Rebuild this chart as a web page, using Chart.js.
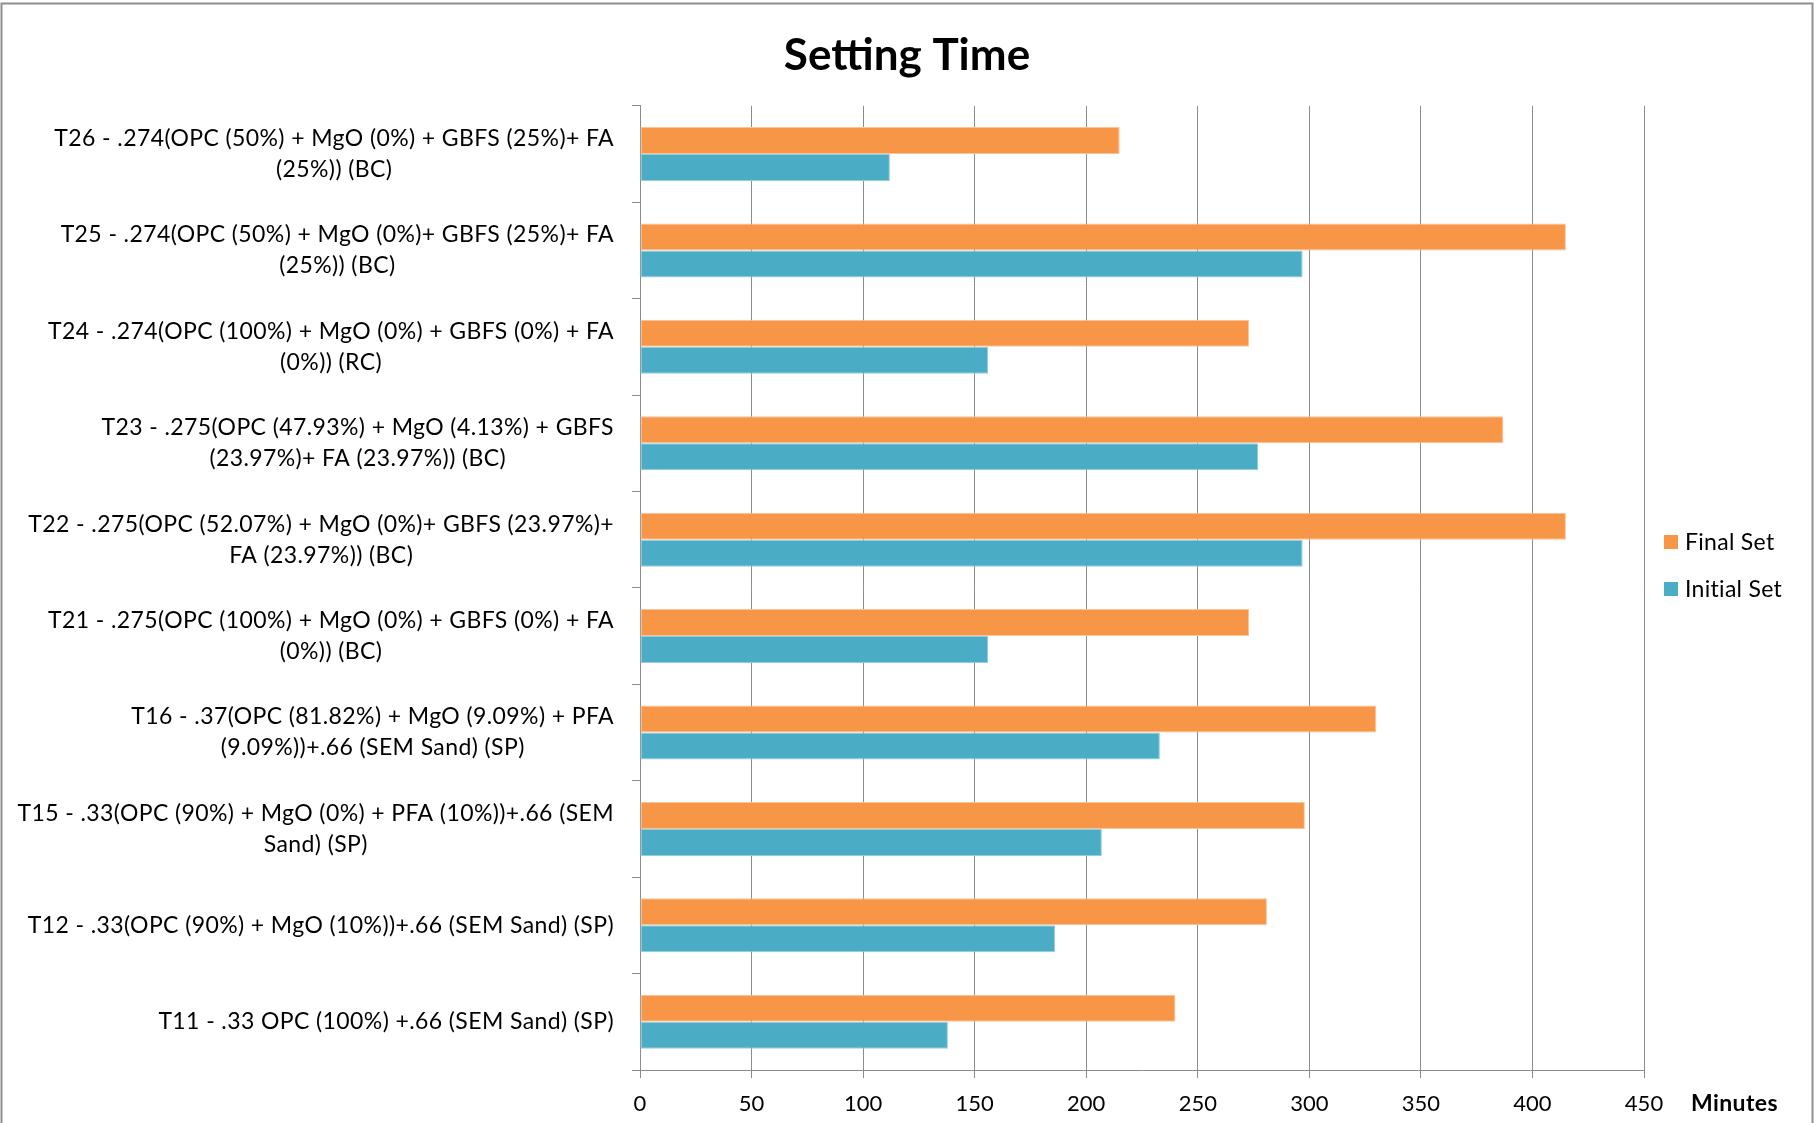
<!DOCTYPE html>
<html>
<head>
<meta charset="utf-8">
<title>Setting Time</title>
<script src="https://cdn.jsdelivr.net/npm/chart.js@4.4.1/dist/chart.umd.min.js"></script>
<style>
  html, body { margin: 0; padding: 0; background: #ffffff; }
  #wrap { width: 1814px; height: 1123px; position: relative; }
  canvas { display: block; }
</style>
</head>
<body>
<div id="wrap"><canvas id="chart" width="1814" height="1123"></canvas></div>
<script>
// Mix designs, listed from the top of the chart to the bottom (one array of lines each)
const mixes = [
  ['T26 - .274(OPC (50%) + MgO (0%) + GBFS (25%)+ FA', '(25%)) (BC)'],
  ['T25 - .274(OPC (50%) + MgO (0%)+ GBFS (25%)+ FA', '(25%)) (BC)'],
  ['T24 - .274(OPC (100%) + MgO (0%) + GBFS (0%) + FA', '(0%)) (RC)'],
  ['T23 - .275(OPC (47.93%) + MgO (4.13%) + GBFS', '(23.97%)+ FA (23.97%)) (BC)'],
  ['T22 - .275(OPC (52.07%) + MgO (0%)+ GBFS (23.97%)+', 'FA (23.97%)) (BC)'],
  ['T21 - .275(OPC (100%) + MgO (0%) + GBFS (0%) + FA', '(0%)) (BC)'],
  ['T16 - .37(OPC (81.82%) + MgO (9.09%) + PFA', '(9.09%))+.66 (SEM Sand) (SP)'],
  ['T15 - .33(OPC (90%) + MgO (0%) + PFA (10%))+.66 (SEM', 'Sand) (SP)'],
  ['T12 - .33(OPC (90%) + MgO (10%))+.66 (SEM Sand) (SP)'],
  ['T11 - .33 OPC (100%) +.66 (SEM Sand) (SP)']
];

// Setting times in minutes, same order as the mixes
const finalSet   = [215, 415, 273, 387, 415, 273, 330, 298, 281, 240];
const initialSet = [112, 297, 156, 277, 297, 156, 233, 207, 186, 138];

const seriesNames = ['Final Set', 'Initial Set'];
const seriesColors = ['#F79646', '#4BACC6'];
const seriesEdges = ['#FAC49A', '#93CDDD'];

const chartTitle = 'Setting Time';
const valueAxisTitle = 'Minutes';
const minuteMin = 0;
const minuteMax = 450;
const minuteStep = 50;

const FONT = 'Lato, "Open Sans", "DejaVu Sans", sans-serif';
const GRID = '#8c8c8c';

// Draws the frame around the whole chart
const framePlugin = {
  id: 'frame',
  beforeDraw(chart) {
    const ctx = chart.ctx;
    ctx.save();
    ctx.fillStyle = '#ffffff';
    ctx.fillRect(0, 0, chart.width, chart.height);
    ctx.restore();
  },
  afterDraw(chart) {
    const ctx = chart.ctx;
    ctx.save();
    ctx.strokeStyle = '#8e8e8e';
    ctx.lineWidth = 2;
    ctx.strokeRect(1.5, 3.5, chart.width - 3, chart.height + 20);
    ctx.restore();
  }
};

// Category names: each block right-aligned to the axis, its lines centred on each other
const mixLabelPlugin = {
  id: 'mixLabels',
  afterDraw(chart) {
    const ctx = chart.ctx;
    const yScale = chart.scales.y;
    const right = chart.chartArea.left - 26;
    const lineH = 31;
    ctx.save();
    ctx.font = '23px ' + FONT;
    ctx.letterSpacing = '0.4px';
    ctx.fillStyle = '#000000';
    ctx.textAlign = 'center';
    ctx.textBaseline = 'middle';
    mixes.forEach((lines, i) => {
      const yc = yScale.getPixelForValue(i);
      const w = Math.max(...lines.map(l => ctx.measureText(l).width));
      const cx = right - w / 2;
      lines.forEach((l, j) => {
        ctx.fillText(l, cx, yc + (j - (lines.length - 1) / 2) * lineH);
      });
    });
    ctx.restore();
  }
};

// Legend to the right of the plot, plus the unit label beside the value axis
const sideLegendPlugin = {
  id: 'sideLegend',
  afterDraw(chart) {
    const ctx = chart.ctx;
    const area = chart.chartArea;
    const x0 = area.right + 20;
    const rows = [542, 589];
    ctx.save();
    ctx.font = '23px ' + FONT;
    ctx.letterSpacing = '0.3px';
    ctx.textAlign = 'left';
    ctx.textBaseline = 'middle';
    chart.data.datasets.forEach((ds, i) => {
      const yc = rows[i];
      ctx.fillStyle = ds.backgroundColor;
      ctx.fillRect(x0, yc - 7, 14, 14);
      ctx.fillStyle = '#000000';
      ctx.fillText(ds.label, x0 + 21, yc + 1);
    });
    const xs = chart.scales.x;
    ctx.font = 'bold 23px ' + FONT;
    ctx.letterSpacing = '0.4px';
    ctx.fillText(valueAxisTitle, area.right + 47, xs.top + 34);
    ctx.restore();
  }
};

new Chart(document.getElementById('chart'), {
  type: 'bar',
  data: {
    labels: mixes,
    datasets: [
      {
        label: seriesNames[0],
        data: finalSet,
        backgroundColor: seriesColors[0],
        borderColor: seriesEdges[0],
        borderWidth: 1,
        borderSkipped: false
      },
      {
        label: seriesNames[1],
        data: initialSet,
        backgroundColor: seriesColors[1],
        borderColor: seriesEdges[1],
        borderWidth: 1,
        borderSkipped: false
      }
    ]
  },
  options: {
    indexAxis: 'y',
    responsive: false,
    devicePixelRatio: 1,
    animation: false,
    datasets: {
      bar: { categoryPercentage: 0.56, barPercentage: 1.0 }
    },
    layout: {
      padding: { left: 170, right: 170, top: 0, bottom: 0 }
    },
    scales: {
      x: {
        type: 'linear',
        position: 'bottom',
        min: minuteMin,
        max: minuteMax,
        ticks: {
          stepSize: minuteStep,
          padding: 13,
          color: '#000000',
          font: { family: FONT, size: 22 }
        },
        grid: {
          color: GRID,
          lineWidth: 1,
          drawTicks: true,
          tickLength: 8,
          tickColor: GRID
        },
        border: { display: true, color: GRID, width: 1 },
        afterFit(scale) { scale.height = 53; }
      },
      y: {
        type: 'category',
        position: 'left',
        ticks: { display: false },
        grid: {
          offset: true,
          drawOnChartArea: false,
          drawTicks: true,
          tickLength: 8,
          color: GRID
        },
        border: { display: true, color: GRID, width: 1 },
        afterFit(scale) { scale.width = 470; }
      }
    },
    plugins: {
      legend: { display: false },
      tooltip: { enabled: false },
      title: {
        display: true,
        text: chartTitle,
        color: '#000000',
        font: { family: FONT, size: 44, weight: 'bold', lineHeight: 1.2 },
        padding: { top: 29, bottom: 24 }
      }
    }
  },
  plugins: [framePlugin, mixLabelPlugin, sideLegendPlugin]
});
</script>
</body>
</html>
